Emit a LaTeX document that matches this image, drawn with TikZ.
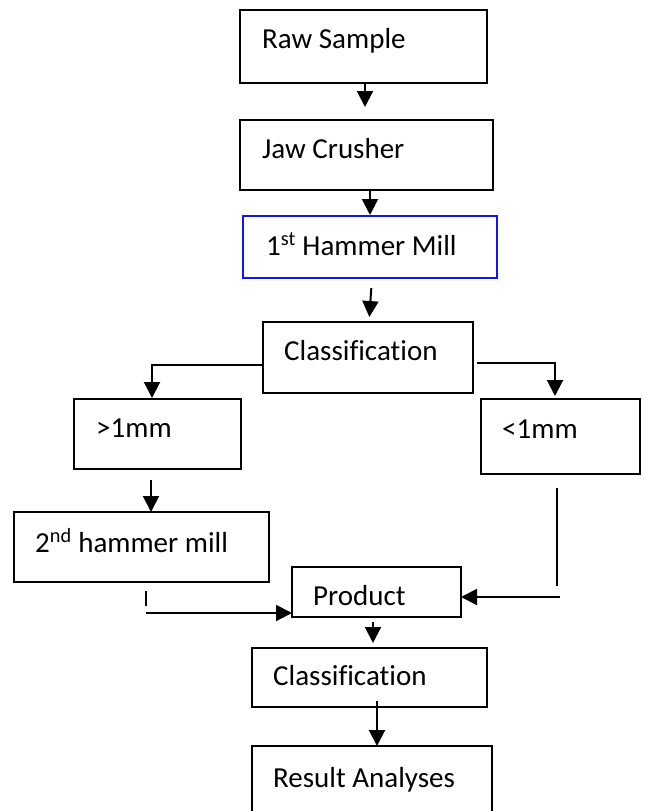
\documentclass[tikz,border=0pt]{standalone}
\usepackage{fontspec}
\setmainfont{Carlito}[Ligatures={NoCommon}]
\usetikzlibrary{arrows.meta}
\definecolor{boxblue}{RGB}{20,20,240}
\begin{document}
\begin{tikzpicture}[x=1pt,y=-1pt,
  box/.style={draw=black,line width=1.6pt,rectangle,inner sep=0pt,outer sep=0pt},
  bluebox/.style={box,draw=boxblue},
  txt/.style={anchor=base west,inner sep=0pt,font=\fontsize{29}{34}\selectfont},
  arr/.style={line width=2pt,-{Triangle[length=16pt,width=16pt]}},
  ln/.style={line width=1.6pt}]
\useasboundingbox (0,0) rectangle (646,811);
\fill[white] (0,0) rectangle (646,811);
% boxes
\node[box,minimum width=247pt,minimum height=73pt] (raw) at (363.5,46.5) {};
\node[box,minimum width=253pt,minimum height=70pt] (jaw) at (366.5,155) {};
\node[bluebox,minimum width=254pt,minimum height=62pt] (ham1) at (370,247) {};
\node[box,minimum width=210pt,minimum height=71pt] (cls1) at (368,357.5) {};
\node[box,minimum width=167pt,minimum height=70pt] (gt) at (157.5,434) {};
\node[box,minimum width=159pt,minimum height=75pt] (lt) at (560.5,436.5) {};
\node[box,minimum width=255pt,minimum height=70pt] (ham2) at (141.5,547) {};
\node[box,minimum width=169pt,minimum height=50pt] (prod) at (376.5,592) {};
\node[box,minimum width=235pt,minimum height=59pt] (cls2) at (369.5,677.5) {};
\node[box,minimum width=240pt,minimum height=84pt] (res) at (372,788) {};
% texts
\node[txt] (rawT) at (262,48) {Raw Sample};
\node[txt] (jawT) at (262,158) {Jaw Crusher};
\node[txt] (ham1T) at (266,255) {1\textsuperscript{st} Hammer Mill};
\node[txt] (cls1T) at (284,360) {Classification};
\node[txt] (gtT) at (96,437) {>1mm};
\node[txt] (ltT) at (502,438) {<1mm};
\node[txt] (ham2T) at (35,552) {2\textsuperscript{nd} hammer mill};
\node[txt] (prodT) at (313,605) {Product};
\node[txt] (cls2T) at (273,685) {Classification};
\node[txt] (resT) at (273,787) {Result Analyses};
% connectors
\draw[arr,shorten >=13pt] ([xshift=1.5pt]raw.south) -- ([xshift=-1.5pt]jaw.north);
\draw[arr,shorten >=1pt] ([xshift=3.5pt]jaw.south) -- ([xshift=0pt]ham1.north);
\draw[arr,shorten <=10pt,shorten >=5pt] ([xshift=2pt]ham1.south) -- ([xshift=1pt]cls1.north);
\coordinate (lb) at (152,365);
\draw[arr,shorten >=1pt] (cls1.west |- lb) -- (lb) -- ([xshift=-5.5pt]gt.north);
\coordinate (rb) at (555,363);
\draw[arr,shorten >=3pt] ([xshift=4pt]cls1.east |- rb) -- (rb) -- ([xshift=-5.5pt]lt.north);
\draw[arr,shorten <=11pt] ([xshift=-6.5pt]gt.south) -- ([xshift=9.5pt]ham2.north);
\draw[ln,shorten <=9pt] ([xshift=4.5pt]ham2.south) -- (146,606);
\coordinate (lj) at (146,613);
\draw[arr] (lj) -- (prod.west |- lj);
\coordinate (rt) at (557,488);
\coordinate (rj) at (560,597);
\draw[line width=1.3pt] (rt) -- (557,586);
\draw[arr] (rj) -- (prod.east |- rj);
\draw[arr,shorten <=5pt,shorten >=5pt] ([xshift=-3.5pt]prod.south) -- ([xshift=3.5pt]cls2.north);
\draw[arr,shorten <=-6pt] ([xshift=7.5pt]cls2.south) -- ([xshift=5pt]res.north);
\end{tikzpicture}
\end{document}
